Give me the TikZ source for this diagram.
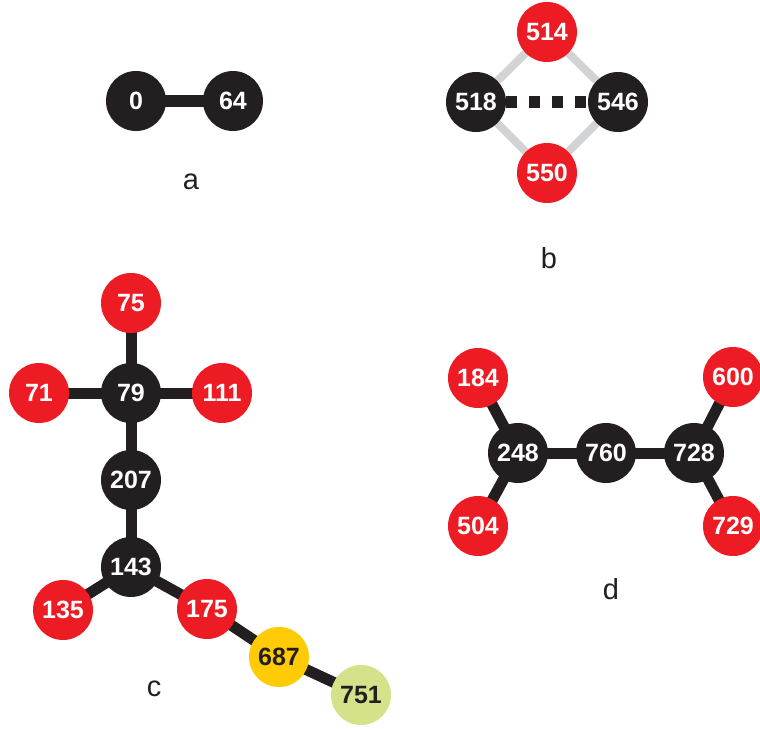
\documentclass[tikz,border=0pt]{standalone}
\usepackage{fontspec}
\setmainfont{Liberation Sans}
\definecolor{nred}{HTML}{ED1C24}
\definecolor{nblack}{HTML}{231F20}
\definecolor{nyellow}{HTML}{FFCB05}
\definecolor{ngreen}{HTML}{D5E28A}
\definecolor{ngray}{HTML}{D1D3D4}
\pgfdeclarelayer{back}
\pgfdeclarelayer{edges}
\pgfsetlayers{back,edges,main}
\tikzset{
  atom/.style={circle, minimum size=60pt, inner sep=0pt, font=\bfseries\fontsize{25}{25}\selectfont},
  blk/.style={atom, fill=nblack, text=white},
  rd/.style={atom, fill=nred, text=white},
  yl/.style={atom, fill=nyellow, text=nblack},
  gr/.style={atom, fill=ngreen, text=nblack},
  bond/.style={draw=nblack, line width=11pt},
  weak/.style={draw=ngray, line width=8pt},
  dashbond/.style={draw=nblack, line width=12pt, dash pattern=on 10.7pt off 12.3pt},
  lbl/.style={font=\fontsize{29}{29}\selectfont, text=nblack}
}
\begin{document}
\begin{tikzpicture}[x=1pt, y=-1pt]
\begin{pgfonlayer}{back}
\fill[white] (0,0) rectangle (760,728);
\end{pgfonlayer}
\useasboundingbox (0,0) rectangle (760,728);
% a
\node[blk] (n0) at (136,101) {0};
\node[blk] (n64) at (233,101) {64};
\node[lbl] (la) at (191,182) {a};
% b
\node[rd] (n514) at (547,32) {514};
\node[blk] (n518) at (476,102) {518};
\node[blk] (n546) at (618,102) {546};
\node[rd] (n550) at (547,173) {550};
\node[lbl] (lb) at (549,258) {b};
% c
\node[rd] (n75) at (131,303) {75};
\node[rd] (n71) at (39,393) {71};
\node[blk] (n79) at (131,393) {79};
\node[rd] (n111) at (222,393) {111};
\node[blk] (n207) at (131,480) {207};
\node[blk] (n143) at (131,567) {143};
\node[rd] (n135) at (63,610) {135};
\node[rd] (n175) at (207,609) {175};
\node[yl] (n687) at (279,657) {687};
\node[gr] (n751) at (361,695) {751};
\node[lbl] (lc) at (154,689) {c};
% d
\node[rd] (n184) at (478,378) {184};
\node[blk] (n248) at (518,453) {248};
\node[blk] (n760) at (606,453) {760};
\node[blk] (n728) at (694,453) {728};
\node[rd] (n600) at (733,377) {600};
\node[rd] (n504) at (478,526) {504};
\node[rd] (n729) at (733,526) {729};
\node[lbl] (ld) at (611,589) {d};
\begin{pgfonlayer}{edges}
\draw[bond, line width=12pt] (n0.center) -- (n64.center);
\draw[weak] (n518.center) -- (n514.center) -- (n546.center) -- (n550.center) -- (n518.center);
\draw[dashbond] (n518) -- (n546);
\draw[bond] (n75.center) -- (n79.center);
\draw[bond] (n71.center) -- (n111.center);
\draw[bond] (n79.center) -- (n207.center) -- (n143.center);
\draw[bond] (n135.center) -- (n143.center) -- (n175.center) -- (n687.center) -- (n751.center);
\draw[bond] (n184.center) -- (n248.center) -- (n504.center);
\draw[bond] (n248.center) -- (n728.center);
\draw[bond] (n600.center) -- (n728.center) -- (n729.center);
\end{pgfonlayer}
\end{tikzpicture}
\end{document}
